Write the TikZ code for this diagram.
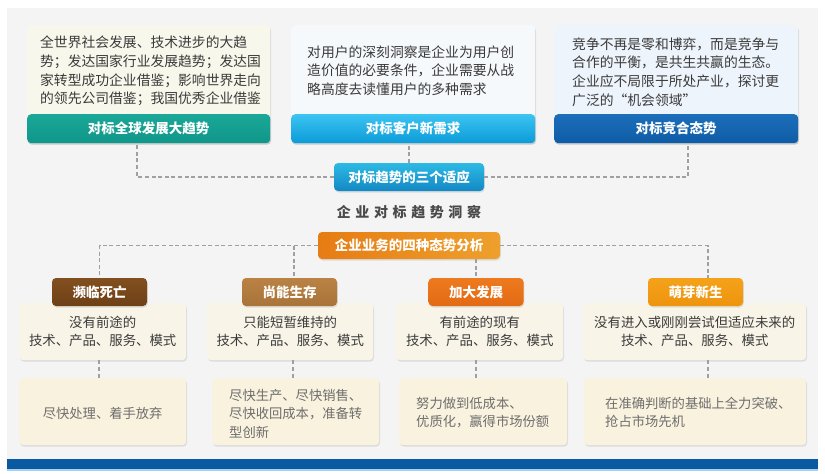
\documentclass[tikz,border=0pt]{standalone}
\usepackage{fontspec}
\setmainfont{Noto Sans CJK SC}
\usetikzlibrary{shadows,calc}
\definecolor{panelbg}{HTML}{F4F4F4}
\definecolor{boxA}{HTML}{F7F7EC}
\definecolor{boxB}{HTML}{F6F9FC}
\definecolor{boxC}{HTML}{EDF4FB}
\definecolor{midbox}{HTML}{F8F5E8}
\definecolor{lowbox}{HTML}{F9F2DE}
\definecolor{txtdark}{HTML}{3A3A3A}
\definecolor{txtgray}{HTML}{6E6E6E}
\definecolor{titlec}{HTML}{4A4A4A}
\definecolor{dashc}{HTML}{A0A0A0}
\definecolor{blueband}{HTML}{0A5AA2}
\definecolor{bluethin}{HTML}{A9D0EE}
\definecolor{tealT}{HTML}{1AA898}
\definecolor{tealB}{HTML}{10968A}
\definecolor{skyT}{HTML}{3CC4F2}
\definecolor{skyB}{HTML}{0B9BD8}
\definecolor{navyT}{HTML}{1C6EBA}
\definecolor{navyB}{HTML}{0F5CA6}
\definecolor{midT}{HTML}{2CBAE4}
\definecolor{midB}{HTML}{1488C4}
\definecolor{oraL}{HTML}{E67C14}
\definecolor{oraR}{HTML}{EEA02C}
\definecolor{brnT}{HTML}{82501F}
\definecolor{brnB}{HTML}{6E4016}
\definecolor{tanT}{HTML}{BA8244}
\definecolor{tanB}{HTML}{A8733A}
\definecolor{orgT}{HTML}{EE7A1E}
\definecolor{orgB}{HTML}{E26A14}
\definecolor{yelT}{HTML}{F5A21A}
\definecolor{yelB}{HTML}{EE940E}
\begin{document}
\begin{tikzpicture}[x=1pt,y=-1pt,
  shad/.style={drop shadow={opacity=0.2, shadow xshift=0.8pt, shadow yshift=-1.5pt}},
  panelbox/.style={shad, rounded corners=4pt, inner sep=0pt, anchor=north west},
  barbox/.style={shad, rounded corners=4pt, inner sep=0pt, text=white,
     font=\bfseries\fontsize{13.5}{16}\selectfont},
  body/.style={inner sep=0pt, text=txtdark, align=left, anchor=west,
     font=\fontsize{13.8}{18.7}\selectfont},
  midtext/.style={inner sep=0pt, text=txtdark, align=center,
     font=\fontsize{13.4}{18}\selectfont},
  lowtext/.style={inner sep=0pt, text=txtgray, align=left, anchor=west,
     font=\fontsize{13.3}{18.5}\selectfont},
  catbox/.style={barbox, minimum width=95pt, minimum height=28pt},
  dashline/.style={draw=dashc, line width=1.6pt, dash pattern=on 4pt off 2.6pt}
]
\useasboundingbox (0,0) rectangle (825,474);
\fill[white] (0,0) rectangle (825,474);
\fill[panelbg] (7,8) rectangle (818,459);
\fill[blueband] (7,459) rectangle (818,469);
\fill[bluethin] (7,469) rectangle (818,471);

% top boxes
\node[panelbox, fill=boxA, minimum width=243pt, minimum height=118pt] (tA) at (27,25) {};
\node[panelbox, fill=boxB, minimum width=244pt, minimum height=118pt] (tB) at (291,25) {};
\node[panelbox, fill=boxC, minimum width=244pt, minimum height=118pt] (tC) at (554,25) {};
\node[barbox, top color=tealT, bottom color=tealB, minimum width=243pt, minimum height=29pt, anchor=south] (bA) at (tA.south) {对标全球发展大趋势};
\node[barbox, top color=skyT, bottom color=skyB, minimum width=244pt, minimum height=29pt, anchor=south] (bB) at (tB.south) {对标客户新需求};
\node[barbox, top color=navyT, bottom color=navyB, minimum width=244pt, minimum height=29pt, anchor=south] (bC) at (tC.south) {对标竞合态势};
\node[body] (xA) at (40,71) {全世界社会发展、技术进步的大趋\\势；发达国家行业发展趋势；发达国\\家转型成功企业借鉴；影响世界走向\\的领先公司借鉴；我国优秀企业借鉴};
\node[body] (xB) at (307,70.5) {对用户的深刻洞察是企业为用户创\\造价值的必要条件，企业需要从战\\略高度去读懂用户的多种需求};
\node[body] (xC) at (572,72) {竞争不再是零和博弈，而是竞争与\\合作的平衡，是共生共赢的生态。\\企业应不局限于所处产业，探讨更\\广泛的“机会领域”};

% middle node
\node[barbox, top color=midT, bottom color=midB, minimum width=150pt, minimum height=28pt] (mid) at (409,177) {对标趋势的三个适应};
\node[inner sep=0pt, text=titlec, font=\bfseries\fontsize{14}{16}\selectfont] (ttl) at (409,212)
  {企\hspace{4.6pt}业\hspace{4.6pt}对\hspace{4.6pt}标\hspace{4.6pt}趋\hspace{4.6pt}势\hspace{4.6pt}洞\hspace{4.6pt}察};
\node[barbox, left color=oraL, right color=oraR, minimum width=182pt, minimum height=27pt] (ora) at (409,245.5) {企业业务的四种态势分析};

% middle boxes
\node[panelbox, fill=midbox, minimum width=167pt, minimum height=57pt] (m1) at (19,303) {};
\node[panelbox, fill=midbox, minimum width=166pt, minimum height=57pt] (m2) at (207,303) {};
\node[panelbox, fill=midbox, minimum width=167pt, minimum height=57pt] (m3) at (396,303) {};
\node[panelbox, fill=midbox, minimum width=223pt, minimum height=57pt] (m4) at (583,303) {};
\node[midtext] at (m1.center) {没有前途的\\技术、产品、服务、模式};
\node[midtext] at (m2.center) {只能短暂维持的\\技术、产品、服务、模式};
\node[midtext] at (m3.center) {有前途的现有\\技术、产品、服务、模式};
\node[midtext] at (m4.center) {没有进入或刚刚尝试但适应未来的\\技术、产品、服务、模式};

% categories
\node[catbox, top color=brnT, bottom color=brnB] (c1) at (99.5,292) {濒临死亡};
\node[catbox, top color=tanT, bottom color=tanB] (c2) at (289.5,292) {尚能生存};
\node[catbox, top color=orgT, bottom color=orgB] (c3) at (476,292) {加大发展};
\node[catbox, top color=yelT, bottom color=yelB] (c4) at (695.5,292) {萌芽新生};

% lower boxes
\node[panelbox, fill=lowbox, minimum width=167pt, minimum height=67pt] (l1) at (19,378) {};
\node[panelbox, fill=lowbox, minimum width=167pt, minimum height=67pt] (l2) at (212,378) {};
\node[panelbox, fill=lowbox, minimum width=168pt, minimum height=67pt] (l3) at (399,378) {};
\node[panelbox, fill=lowbox, minimum width=222pt, minimum height=67pt] (l4) at (584,378) {};
\node[lowtext, anchor=center] at ($(l1.center)+(0,2)$) {尽快处理、着手放弃};
\node[lowtext] at (229,413.5) {尽快生产、尽快销售、\\尽快收回成本，准备转\\型创新};
\node[lowtext] at (416,412.5) {努力做到低成本、\\优质化，赢得市场份额};
\node[lowtext] at (605,412.5) {在准确判断的基础上全力突破、\\抢占市场先机};

% connectors top
\coordinate (jA) at ($(bA.south)+(-11.5,0)$);
\coordinate (jC) at ($(bC.south)+(12,0)$);
\draw[dashline] (mid.west) -| (jA);
\draw[dashline] (mid.east) -| (jC);
\draw[dashline] (mid.north) -- (mid.north |- bB.south);

% connectors bottom
\coordinate (j2) at (294,0);
\coordinate (j4) at (708,0);
\coordinate (j1) at (99,0);
\coordinate (j3) at (293,0);
\draw[dashline] (ora.west) -| (c1.north);
\draw[dashline] (ora.east) -| (j4 |- c4.north);
\draw[dashline] (j2 |- ora.west) -- (j2 |- c2.north);
\draw[dashline] (ora.south -| c3.north) -- (c3.north);

% connectors middle to lower
\draw[dashline] (m1.south -| j1) -- (l1.north -| j1);
\draw[dashline] (m2.south -| j3) -- (l2.north -| j3);
\draw[dashline] (m3.south -| c3.north) -- (l3.north -| c3.north);
\draw[dashline] (m4.south -| j4) -- (l4.north -| j4);
\end{tikzpicture}
\end{document}
